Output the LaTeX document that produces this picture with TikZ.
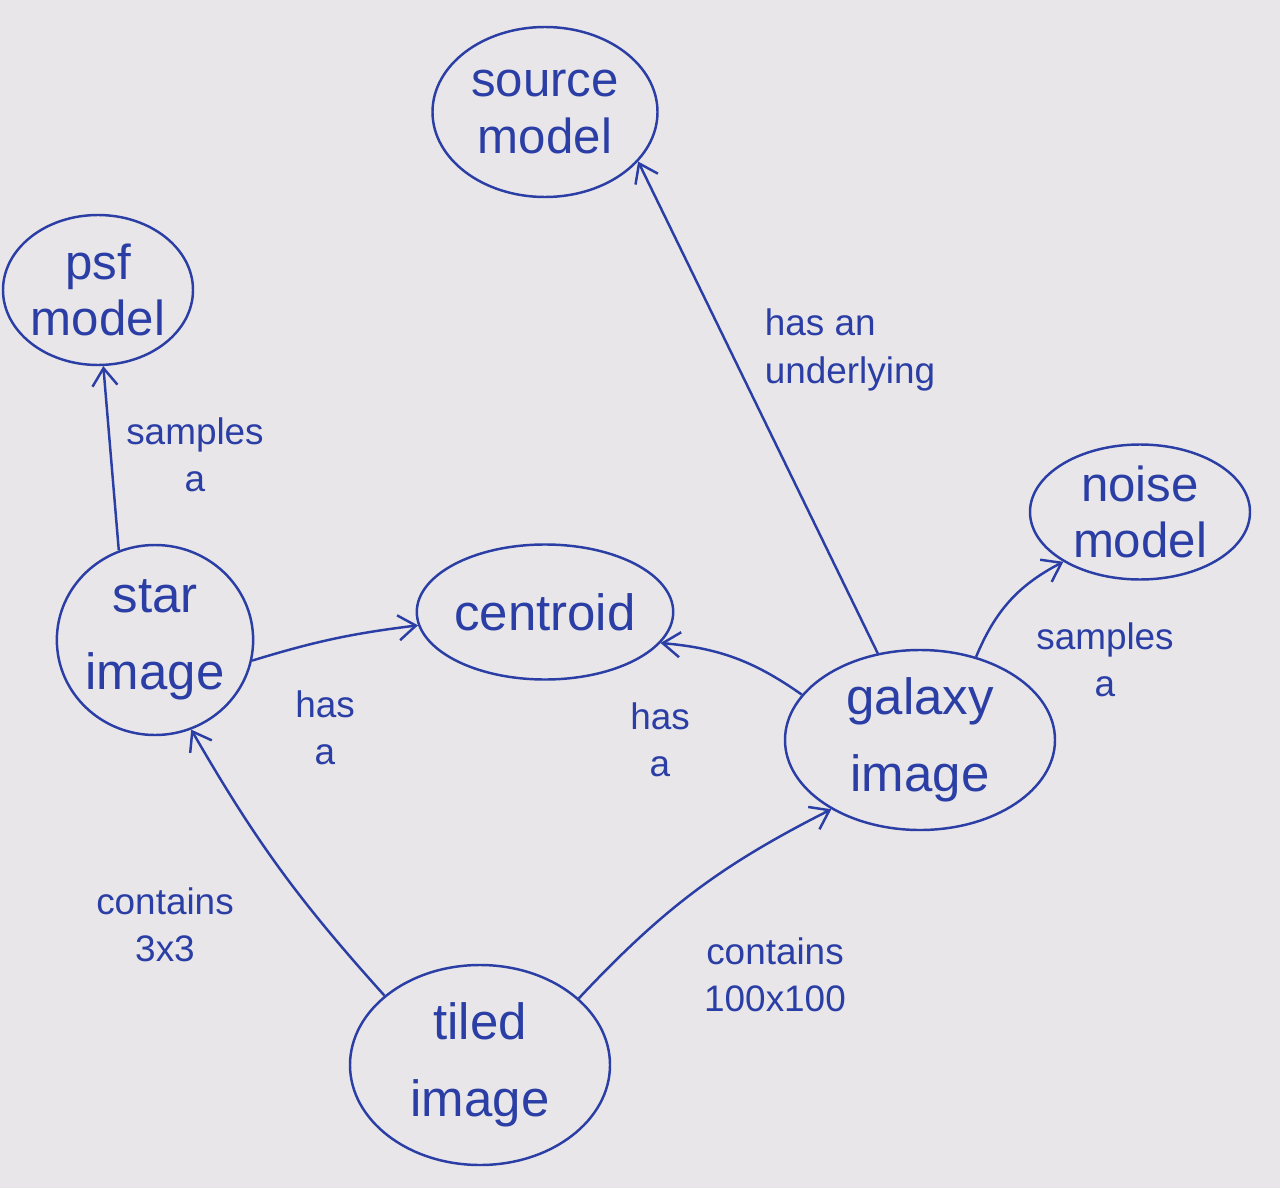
\documentclass[tikz,border=0pt]{standalone}
\usepackage{fontspec}
\setmainfont{Liberation Sans}
\usetikzlibrary{shapes.geometric,arrows.meta}
\definecolor{ink}{RGB}{42,62,165}
\definecolor{paper}{RGB}{232,230,232}
\begin{document}
\begin{tikzpicture}[x=0.2mm, y=-0.2mm,
  obj/.style={ellipse, draw=ink, line width=1.4pt, inner sep=0pt, text=ink, align=center, font=\fontsize{29}{44}\selectfont},
  tight/.style={font=\fontsize{28}{32}\selectfont},
  lbl/.style={text=ink, align=center, font=\fontsize{21}{27}\selectfont},
  rel/.style={draw=ink, line width=1.4pt, -{Straight Barb[length=3.5mm, width=5mm]}}]
\fill[paper] (0,0) rectangle (1280,1188);
% objects
\node [obj, tight, minimum width=45mm, minimum height=34mm] (src) at (545,112) {source\\model};
\node [obj, tight, minimum width=38mm, minimum height=30mm] (psf) at (98,290) {psf\\model};
\node [obj, tight, minimum width=44mm, minimum height=27mm] (noise) at (1140,512) {noise\\model};
\node [obj, minimum width=39mm, minimum height=38mm] (star) at (155,640) {star\\image};
\node [obj, minimum width=50mm, minimum height=27mm] (cent) at (545,612) {centroid};
\node [obj, minimum width=54mm, minimum height=36mm] (gal) at (920,740) {galaxy\\image};
\node [obj, minimum width=52mm, minimum height=40mm] (tiled) at (480,1065) {tiled\\image};
% relations
\draw [rel] (star.112) -- (psf.274);
\draw [rel] (star.348) to[bend left=5] (cent.186);
\draw [rel] (gal.159) to[bend right=15] (cent.345);
\draw [rel] (gal.116) -- (src.332);
\draw [rel] (gal.56) to[bend left=20] (noise.213);
\draw [rel] (tiled.144) to[bend left=6] (star.292);
\draw [rel] (tiled.34) to[bend left=10] (gal.218);
% labels
\node [lbl] (l-psf) at (195,455) {samples\\a};
\node [lbl] (l-cs) at (325,728) {has\\a};
\node [lbl] (l-cg) at (660,740) {has\\a};
\node [lbl, align=left] (l-src) at (850,350) {has an\\underlying};
\node [lbl] (l-noise) at (1105,660) {samples\\a};
\node [lbl] (l-star) at (165,925) {contains\\3x3};
\node [lbl] (l-gal) at (775,975) {contains\\100x100};
\end{tikzpicture}
\end{document}
